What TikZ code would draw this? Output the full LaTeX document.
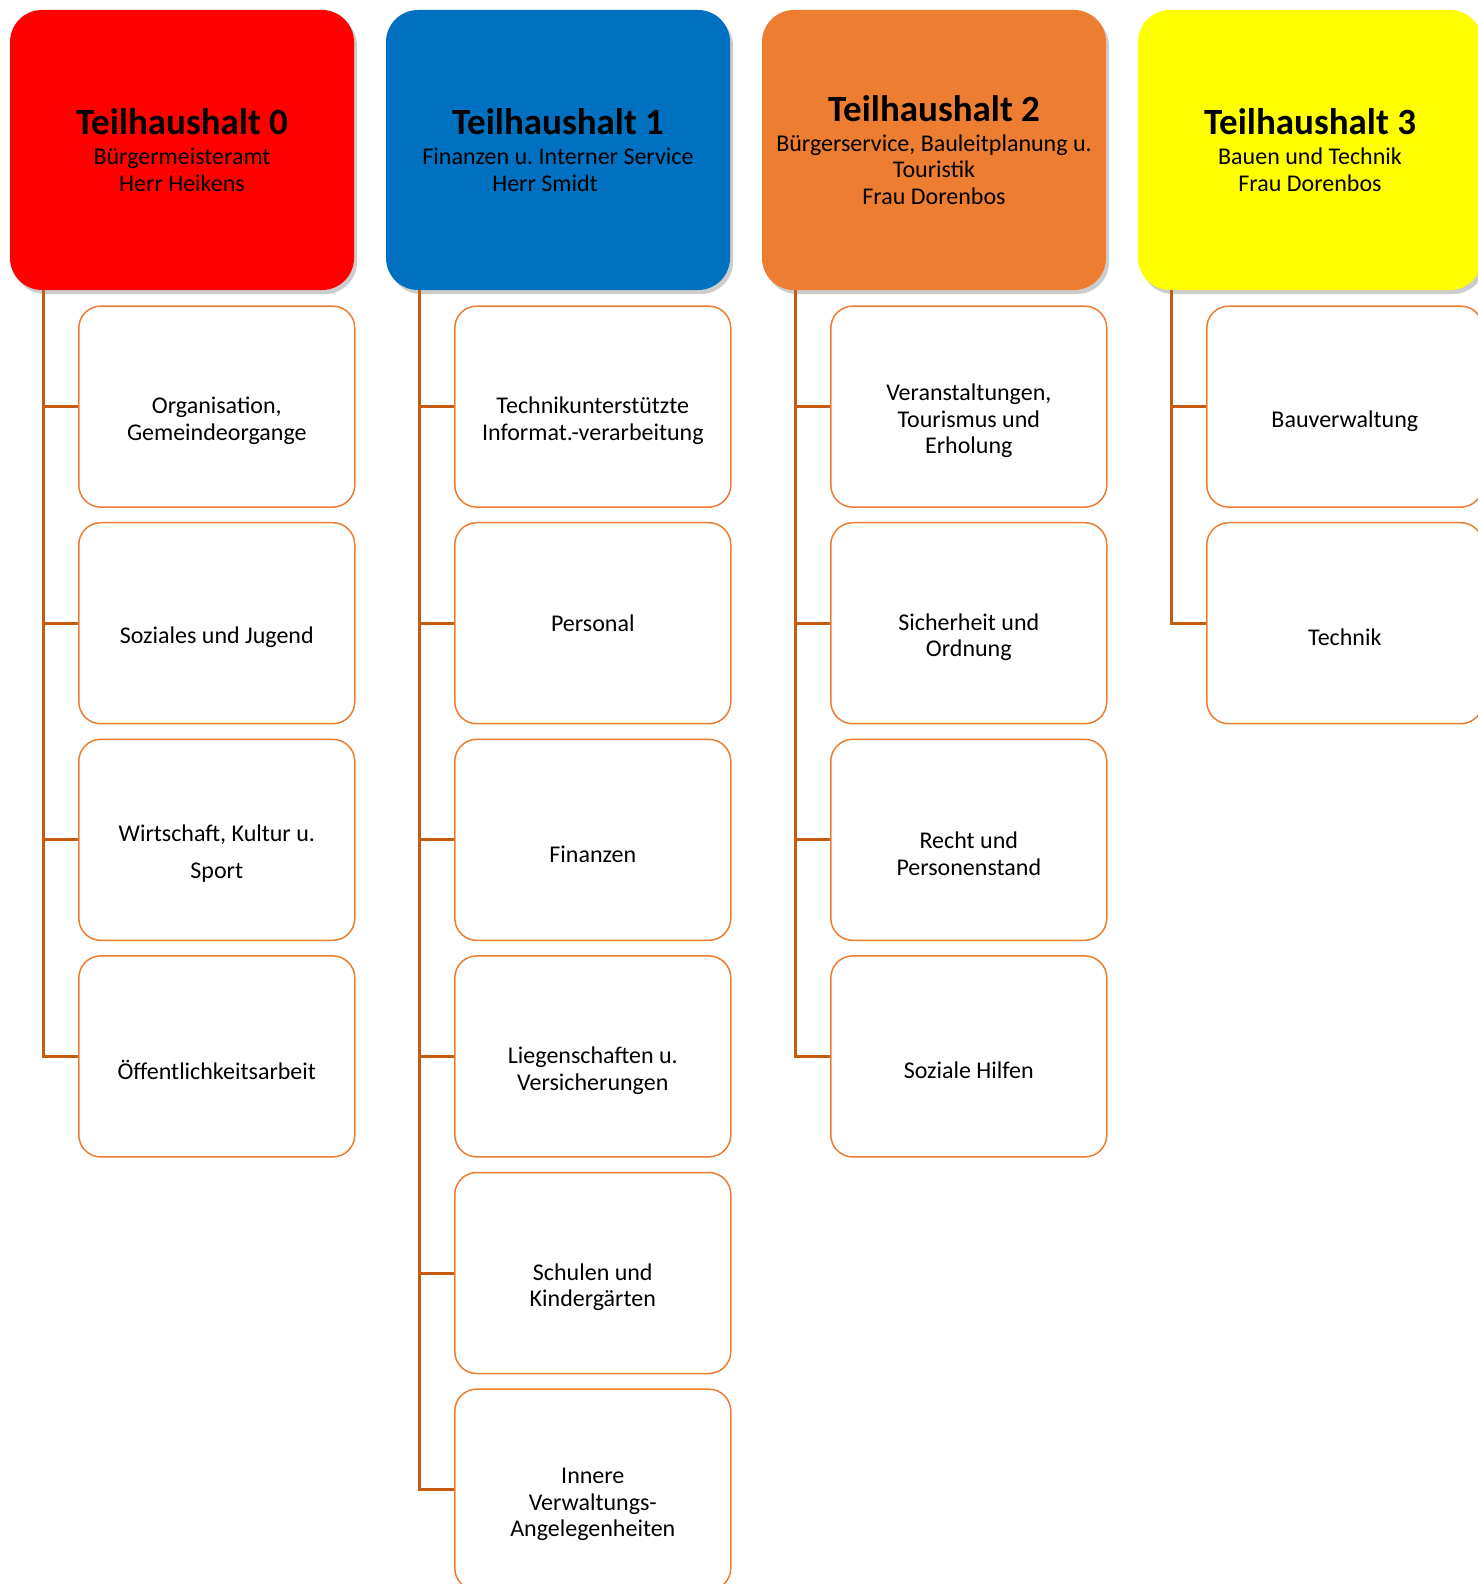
\documentclass[tikz,border=0pt]{standalone}
\usepackage{fontspec}
\setmainfont{Carlito}
\usetikzlibrary{positioning, shadows}
\frenchspacing

\definecolor{thred}{HTML}{FF0000}
\definecolor{thblue}{HTML}{0070C0}
\definecolor{thorange}{HTML}{ED7D31}
\definecolor{thyellow}{HTML}{FFFF00}
\definecolor{linkbrown}{HTML}{C55A11}

\begin{document}
\begin{tikzpicture}[
    x=1pt, y=-1pt, node distance=216.6pt and 376pt, on grid,
    head/.style={rectangle, rounded corners=32pt, minimum width=344pt, minimum height=280pt,
        align=center, font=\fontsize{24}{26.5}\selectfont,
        drop shadow={shadow xshift=3pt, shadow yshift=-4pt, opacity=0.4}},
    unit/.style={rectangle, rounded corners=22pt, draw=thorange, line width=1.5pt, fill=white,
        minimum width=276pt, minimum height=201pt, align=center, font=\fontsize{24}{26.5}\selectfont},
    link/.style={draw=linkbrown, line width=3pt}
]
    \useasboundingbox (0,0) rectangle (1477,1584);

    % Teilhaushalte
    \node[head, fill=thred] (th0) at (182,150) {{\fontsize{37}{30}\selectfont\bfseries Teilhaushalt 0}\\[3.5pt]Bürgermeisteramt\\Herr Heikens};
    \node[head, fill=thblue] (th1) [right=of th0] {{\fontsize{37}{30}\selectfont\bfseries Teilhaushalt 1}\\[3.5pt]Finanzen u. Interner Service\\Herr Smidt\hspace*{26pt}};
    \node[head, fill=thorange] (th2) [right=of th1] {{\fontsize{37}{30}\selectfont\bfseries Teilhaushalt 2}\\[3.5pt]Bürgerservice, Bauleitplanung u.\\Touristik\\Frau Dorenbos};
    \node[head, fill=thyellow] (th3) [right=of th2] {{\fontsize{37}{30}\selectfont\bfseries Teilhaushalt 3}\\[3.5pt]Bauen und Technik\\Frau Dorenbos};

    % Teilhaushalt 0
    \node[unit] (u00) [below right=256.6pt and 34.8pt of th0] {\strut\\Organisation,\\Gemeindeorgange};
    \node[unit] (u01) [below=of u00] {\strut\\Soziales und Jugend};
    \node[unit] (u02) [below=of u01] {\strut\\Wirtschaft, Kultur u.\\[10.5pt]Sport};
    \node[unit] (u03) [below=of u02] {\strut\\Öffentlichkeitsarbeit};

    % Teilhaushalt 1
    \node[unit] (u10) [below right=256.6pt and 34.8pt of th1] {\strut\\Technikunterstützte\\Informat.-verarbeitung};
    \node[unit] (u11) [below=of u10] {Personal};
    \node[unit] (u12) [below=of u11] {\strut\\Finanzen};
    \node[unit] (u13) [below=of u12] {\strut\\Liegenschaften u.\\Versicherungen};
    \node[unit] (u14) [below=of u13] {\strut\\Schulen und\\Kindergärten};
    \node[unit] (u15) [below=of u14] {\strut\\Innere\\Verwaltungs-\\Angelegenheiten};

    % Teilhaushalt 2
    \node[unit] (u20) [below right=256.6pt and 34.8pt of th2] {\strut\\Veranstaltungen,\\Tourismus und\\Erholung};
    \node[unit] (u21) [below=of u20] {\strut\\Sicherheit und\\Ordnung};
    \node[unit] (u22) [below=of u21] {\strut\\Recht und\\Personenstand};
    \node[unit] (u23) [below=of u22] {\strut\\Soziale Hilfen};

    % Teilhaushalt 3
    \node[unit] (u30) [below right=256.6pt and 34.8pt of th3] {\strut\\Bauverwaltung};
    \node[unit] (u31) [below=of u30] {\strut\\Technik};

    % Verbindungen
    \draw[link] ([xshift=34pt]th0.south west) |- (u00.west);
    \draw[link] ([xshift=34pt]th0.south west) |- (u01.west);
    \draw[link] ([xshift=34pt]th0.south west) |- (u02.west);
    \draw[link] ([xshift=34pt]th0.south west) |- (u03.west);

    \draw[link] ([xshift=34pt]th1.south west) |- (u10.west);
    \draw[link] ([xshift=34pt]th1.south west) |- (u11.west);
    \draw[link] ([xshift=34pt]th1.south west) |- (u12.west);
    \draw[link] ([xshift=34pt]th1.south west) |- (u13.west);
    \draw[link] ([xshift=34pt]th1.south west) |- (u14.west);
    \draw[link] ([xshift=34pt]th1.south west) |- (u15.west);

    \draw[link] ([xshift=34pt]th2.south west) |- (u20.west);
    \draw[link] ([xshift=34pt]th2.south west) |- (u21.west);
    \draw[link] ([xshift=34pt]th2.south west) |- (u22.west);
    \draw[link] ([xshift=34pt]th2.south west) |- (u23.west);

    \draw[link] ([xshift=34pt]th3.south west) |- (u30.west);
    \draw[link] ([xshift=34pt]th3.south west) |- (u31.west);
\end{tikzpicture}
\end{document}
